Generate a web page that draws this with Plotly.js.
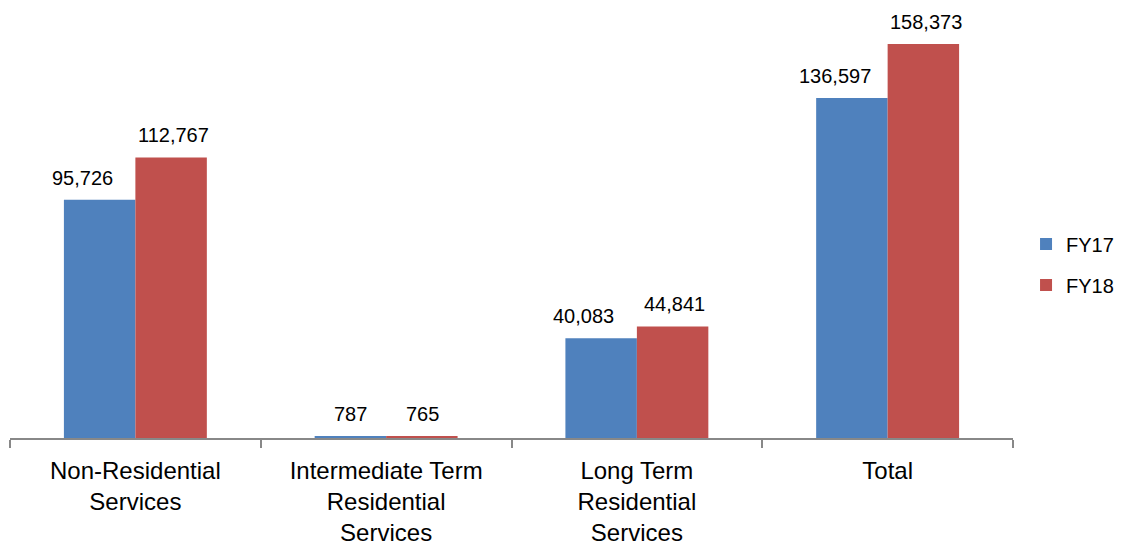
<!DOCTYPE html>
<html>
<head>
<meta charset="utf-8">
<script src="https://cdn.plot.ly/plotly-3.0.1.min.js"></script>
<style>html,body{margin:0;padding:0;background:#fff;}#chart{width:1129px;height:550px;}</style>
</head>
<body>
<div id="chart"></div>
<script>
const categories = ["Non-Residential<br>Services", "Intermediate Term<br>Residential<br>Services", "Long Term<br>Residential<br>Services", "Total"];
const fy17 = [95726, 787, 40083, 136597];
const fy18 = [112767, 765, 44841, 158373];
const seriesNames = ["FY17", "FY18"];
const colors = ["#4F81BD", "#C0504D"];

const FONT = "Liberation Sans, Arial, sans-serif";
const traces = [fy17, fy18].map((vals, k) => ({
  type: "bar", name: seriesNames[k], x: categories, y: vals,
  marker: {color: colors[k]}, legendgroup: "g" + k, hoverinfo: "none"
}));

// value labels above bars (FY17 label nudged left when the neighbouring FY18 bar is taller)
const annotations = [];
[fy17, fy18].forEach((vals, k) => {
  vals.forEach((v, i) => {
    let xs = k === 0 ? -36 : 36;
    if (k === 0 && fy18[i] - v > 2000) xs -= 17;
    if (k === 1 && fy18[i] - fy17[i] > 2000) xs += 2;
    annotations.push({
      x: categories[i], y: v, xref: "x", yref: "y",
      text: v.toLocaleString("en-US"), showarrow: false,
      yanchor: "bottom", xanchor: "center", xshift: xs, yshift: 9,
      font: {family: FONT, size: 20, color: "#000"}
    });
  });
});

const layout = {
  width: 1129, height: 550,
  margin: {l: 10, r: 116, t: 15, b: 112, autoexpand: false},
  paper_bgcolor: "#fff", plot_bgcolor: "#fff",
  barmode: "group", bargap: 0.43, bargroupgap: 0,
  font: {family: FONT, color: "#000"},
  xaxis: {
    type: "category", tickson: "boundaries", ticks: "outside", ticklen: 8,
    tickcolor: "#888", tickwidth: 2, showline: true, linecolor: "#888", linewidth: 2,
    showgrid: false, zeroline: false, tickfont: {family: FONT, size: 24, color: "#000"},
    ticklabelstandoff: 10, automargin: false
  },
  yaxis: {range: [0, 170000], visible: false, showgrid: false, zeroline: false},
  annotations: annotations,
  legend: {x: 1.013, y: 0.41, yanchor: "middle", xanchor: "left",
           font: {family: FONT, size: 20, color: "#000"},
           tracegroupgap: 12, itemwidth: 30},
  showlegend: true
};

Plotly.newPlot("chart", traces, layout, {displayModeBar: false, staticPlot: true});
</script>
</body>
</html>
